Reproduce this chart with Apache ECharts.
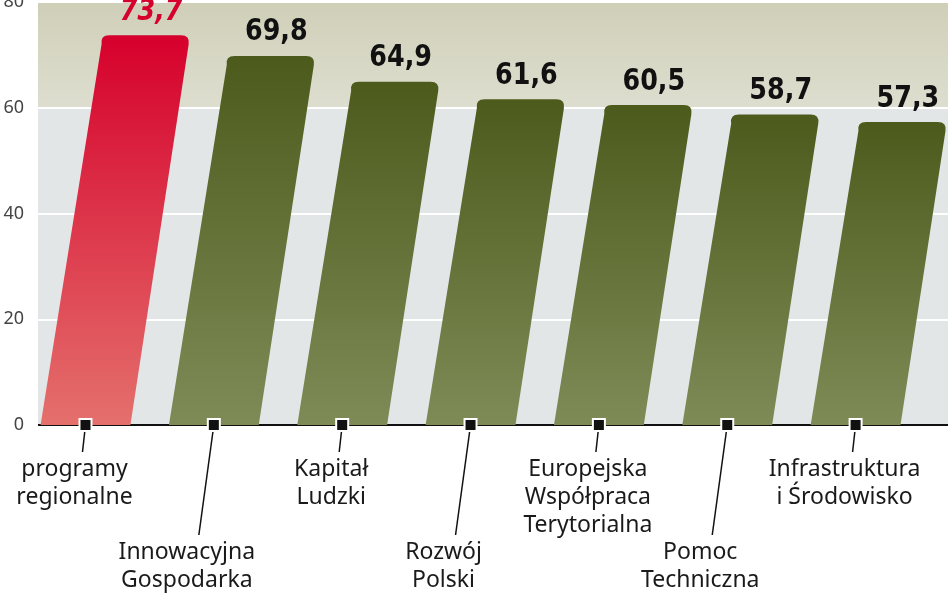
<!DOCTYPE html>
<html><head><meta charset="utf-8">
<script src="https://cdn.jsdelivr.net/npm/echarts@6/dist/echarts.min.js"></script>
<style>html,body{margin:0;padding:0;background:#fff}#c{width:948px;height:593px}</style>
</head><body><div id="c"></div>
<script>
const categories = ['programy\nregionalne','Innowacyjna\nGospodarka','Kapitał\nLudzki','Rozwój\nPolski','Europejska\nWspółpraca\nTerytorialna','Pomoc\nTechniczna','Infrastruktura\ni Środowisko'];
const values = [73.7, 69.8, 64.9, 61.6, 60.5, 58.7, 57.3];
const valueLabels = ['73,7','69,8','64,9','61,6','60,5','58,7','57,3'];
const yTicks = [0, 20, 40, 60, 80];

const chart = echarts.init(document.getElementById('c'));
const data = values.map((v, i) => [i, v]);

function renderItem(params, api) {
  const i = api.value(0), v = api.value(1);
  const p0 = api.coord([i, 0]), p1 = api.coord([i, v]);
  const unit = api.coord([i + 1, 0])[0] - p0[0];
  const w = unit * 0.7;
  const h = p0[1] - p1[1];
  const skew = h * 0.153;
  const bl = p0[0] - w / 2, br = p0[0] + w / 2;
  const tl = bl + skew, tr = br + skew, ty = p1[1], by = p0[1];
  const r = 9;
  const dx = skew / h * r;
  const path = `M${bl},${by} L${br},${by} L${tr - dx},${ty + r} Q${tr},${ty} ${tr - r},${ty} L${tl + r},${ty} Q${tl},${ty} ${tl + dx},${ty + r} Z`;
  const red = i === 0;
  const fill = red
    ? new echarts.graphic.LinearGradient(0, 0, 0, 1, [{offset: 0, color: '#d6002c'}, {offset: 1, color: '#e4706c'}])
    : new echarts.graphic.LinearGradient(0, 0, 0, 1, [{offset: 0, color: '#4c5b1c'}, {offset: 1, color: '#7e8b57'}]);
  const long = i % 2 === 1;
  const tickX = p0[0], tickY = by;
  const lineEndY = long ? by + 110 : by + 27;
  const lineEndX = tickX - (long ? 15 : 3);
  const textX = lineEndX - (long ? 12 : 8);
  const lx = (tl + tr) / 2 + 6, ly = ty - 8;
  const children = [
    {type: 'path', shape: {pathData: path}, style: {fill: fill}},
    {type: 'text', x: lx, y: ly, scaleX: 0.82, scaleY: 1,
      style: {text: valueLabels[i], x: 0, y: 0, align: 'center', verticalAlign: 'bottom',
      font: (red ? 'italic ' : '') + 'bold 31px "DejaVu Sans",sans-serif', fill: red ? '#d6002c' : '#111'}},
    {type: 'line', shape: {x1: tickX, y1: tickY, x2: lineEndX, y2: lineEndY}, style: {stroke: '#111', lineWidth: 1.5}},
    {type: 'rect', shape: {x: tickX - 6, y: tickY - 6, width: 12, height: 12}, style: {fill: '#111', stroke: '#fff', lineWidth: 2}},
    {type: 'text', style: {text: categories[i], x: textX, y: lineEndY + 3, align: 'center', verticalAlign: 'top',
      font: '23px "Noto Sans","DejaVu Sans",sans-serif', lineHeight: 28, fill: '#1a1a1a'}}
  ];
  return {type: 'group', children: children};
}

chart.setOption({
  animation: false,
  grid: {left: 38, right: 0, top: 2, bottom: 168, outerBoundsMode: 'none', containLabel: false},
  xAxis: {type: 'value', min: -0.37, max: 6.72, show: false},
  yAxis: {type: 'value', min: yTicks[0], max: yTicks[yTicks.length - 1], interval: 20,
    axisLine: {show: false}, axisTick: {show: false},
    axisLabel: {color: '#444', fontSize: 18, fontFamily: 'Noto Sans', margin: 14, verticalAlign: 'middle'},
    splitLine: {show: true, lineStyle: {color: '#fff', width: 2}}},
  series: [
    {type: 'line', data: [], silent: true,
      markArea: {silent: true, data: [
        [{yAxis: 60, itemStyle: {color: new echarts.graphic.LinearGradient(0, 0, 0, 1, [{offset: 0, color: '#cfcfb8'}, {offset: 1, color: '#deded0'}])}}, {yAxis: 80}],
        [{yAxis: 0, itemStyle: {color: '#e3e6e7'}}, {yAxis: 60}]
      ]},
      markLine: {silent: true, symbol: 'none', label: {show: false}, lineStyle: {color: '#fff', width: 2, type: 'solid'},
        data: [{yAxis: 20}, {yAxis: 40}, {yAxis: 60}, {yAxis: 80}]}
    },
    {type: 'custom', renderItem: renderItem, data: data, clip: false, z: 5},
    {type: 'line', data: [], silent: true, z: 6,
      markLine: {silent: true, symbol: 'none', label: {show: false}, lineStyle: {color: '#111', width: 2, type: 'solid'},
        data: [{yAxis: 0}]}}
  ]
});
</script></body></html>
